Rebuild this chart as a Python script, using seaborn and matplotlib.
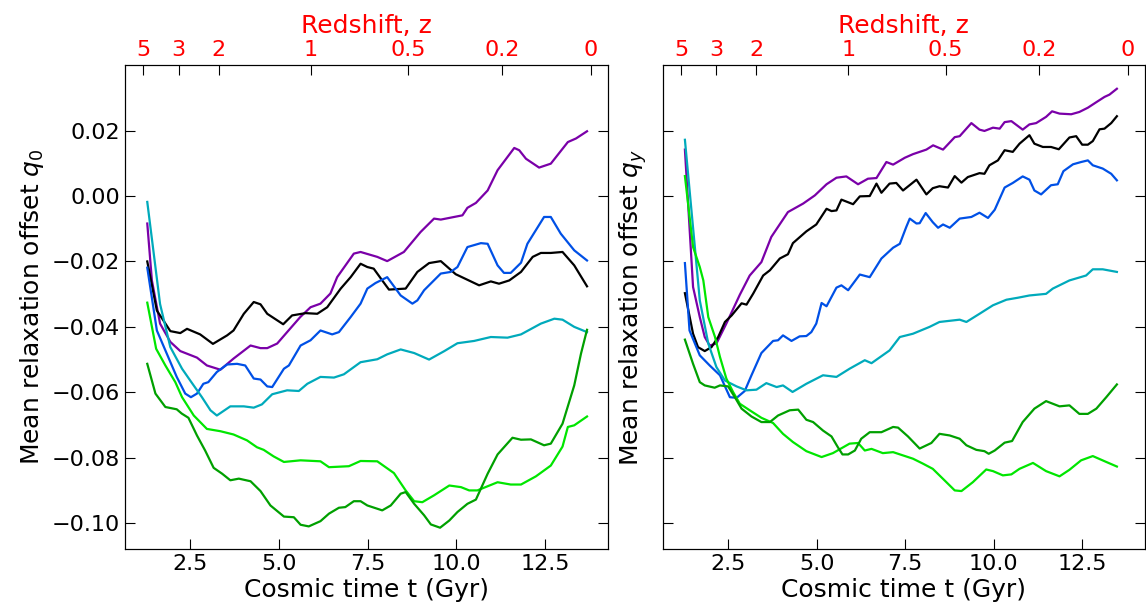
import matplotlib
matplotlib.use("Agg")
import numpy as np
import pandas as pd
import seaborn as sns
import matplotlib.pyplot as plt

# ---- left panel (q_0) ----
lp_t = [1.29,1.42,1.65,1.94,2.22,2.69,2.97,3.35,3.72,4.2,4.48,4.67,4.95,5.23,5.6,5.89,6.17,6.45,6.64,7.11,7.3,7.77,8.05,8.52,8.99,9.37,9.56,10.17,10.31,10.55,10.88,11.16,11.63,11.77,11.96,12.33,12.66,13.14,13.37,13.68]
lp_v = [-0.0084,-0.0258,-0.039,-0.0446,-0.0474,-0.0494,-0.0518,-0.0531,-0.0497,-0.0457,-0.0465,-0.0465,-0.0451,-0.0416,-0.037,-0.034,-0.0329,-0.0298,-0.0248,-0.0176,-0.0171,-0.0186,-0.0199,-0.0171,-0.011,-0.0069,-0.0072,-0.0059,-0.0036,-0.0021,0.0017,0.0079,0.0147,0.014,0.0114,0.0087,0.0099,0.0165,0.0176,0.0198]

lk_t = [1.29,1.56,1.94,2.22,2.41,2.78,3.14,3.54,3.72,4.01,4.29,4.48,4.67,5.12,5.37,5.75,6.08,6.36,6.74,7.02,7.3,7.49,7.67,7.91,8.1,8.57,8.9,9.23,9.56,9.98,10.31,10.64,10.97,11.2,11.49,11.82,12.15,12.38,12.66,12.99,13.32,13.68]
lk_v = [-0.02,-0.035,-0.0413,-0.0419,-0.0406,-0.0423,-0.0452,-0.0426,-0.0411,-0.036,-0.0324,-0.0331,-0.036,-0.0392,-0.0365,-0.0358,-0.036,-0.034,-0.0283,-0.0248,-0.0207,-0.0217,-0.0222,-0.0258,-0.0286,-0.0283,-0.0232,-0.0205,-0.0199,-0.0239,-0.0256,-0.0273,-0.0261,-0.0268,-0.0258,-0.0232,-0.0186,-0.0174,-0.0174,-0.0171,-0.0212,-0.0276]

lb_t = [1.29,1.56,1.84,2.12,2.36,2.52,2.69,2.87,3.01,3.25,3.54,3.82,4.05,4.29,4.48,4.67,4.81,5.14,5.28,5.61,5.89,6.17,6.5,6.69,7.02,7.3,7.49,7.72,8.05,8.43,8.76,8.9,9.09,9.56,9.84,10.03,10.31,10.69,10.88,11.16,11.34,11.53,11.82,12.0,12.47,12.66,12.94,13.32,13.68]
lb_v = [-0.0219,-0.0411,-0.0482,-0.0553,-0.0604,-0.0615,-0.0604,-0.0574,-0.0569,-0.0538,-0.0515,-0.0513,-0.0518,-0.0558,-0.0561,-0.0582,-0.0584,-0.0528,-0.0518,-0.0457,-0.0441,-0.0411,-0.0423,-0.0416,-0.037,-0.0329,-0.0283,-0.0266,-0.0248,-0.0304,-0.0329,-0.0319,-0.0288,-0.0237,-0.0232,-0.0217,-0.0156,-0.0144,-0.0146,-0.0212,-0.0235,-0.0235,-0.0204,-0.0146,-0.0064,-0.0064,-0.0115,-0.0166,-0.0197]

lc_t = [1.29,1.65,1.94,2.27,2.5,2.83,3.07,3.25,3.63,4.01,4.29,4.52,4.81,5.23,5.56,5.8,6.17,6.55,6.83,7.3,7.77,8.05,8.43,8.81,9.23,9.66,10.03,10.5,10.97,11.44,11.82,12.38,12.76,12.99,13.32,13.68]
lc_v = [-0.0018,-0.033,-0.0462,-0.0528,-0.0564,-0.0615,-0.0655,-0.0671,-0.0643,-0.0643,-0.0647,-0.0637,-0.0606,-0.0594,-0.0596,-0.0574,-0.0553,-0.0555,-0.0545,-0.0508,-0.0499,-0.0484,-0.0469,-0.048,-0.05,-0.0474,-0.045,-0.0443,-0.0431,-0.0433,-0.0423,-0.039,-0.0375,-0.0378,-0.04,-0.0416]

ll_t = [1.29,1.54,1.8,2.08,2.27,2.6,2.97,3.35,3.72,4.1,4.38,4.57,4.85,5.14,5.61,6.17,6.41,6.97,7.3,7.77,8.24,8.57,8.81,9.04,9.37,9.8,10.13,10.36,10.59,11.16,11.53,11.82,12.24,12.66,12.99,13.14,13.32,13.68]
ll_v = [-0.0326,-0.0467,-0.0518,-0.0569,-0.0615,-0.0671,-0.0712,-0.0719,-0.0729,-0.0747,-0.0768,-0.0776,-0.0796,-0.0813,-0.0808,-0.0811,-0.0829,-0.0826,-0.081,-0.0811,-0.0847,-0.09,-0.0933,-0.0936,-0.0915,-0.0885,-0.089,-0.09,-0.09,-0.0875,-0.0882,-0.0882,-0.0857,-0.0824,-0.0766,-0.0706,-0.0701,-0.0674]

lg_t = [1.29,1.52,1.8,2.12,2.26,2.45,2.69,2.92,3.16,3.4,3.63,3.87,4.2,4.48,4.76,5.14,5.42,5.61,5.84,6.17,6.41,6.69,6.87,7.11,7.3,7.49,7.91,8.15,8.43,8.57,8.81,9.09,9.28,9.54,9.8,10.03,10.31,10.55,10.88,11.16,11.58,11.82,12.1,12.47,12.66,12.99,13.32,13.51,13.68]
lg_v = [-0.0513,-0.0604,-0.0645,-0.0652,-0.0665,-0.0678,-0.0732,-0.0778,-0.0831,-0.0849,-0.0869,-0.0864,-0.0872,-0.0902,-0.0946,-0.098,-0.0982,-0.1005,-0.101,-0.0994,-0.0971,-0.0953,-0.0951,-0.0933,-0.0933,-0.0946,-0.0961,-0.0946,-0.091,-0.0905,-0.0941,-0.0976,-0.1004,-0.1014,-0.0992,-0.0966,-0.0941,-0.0928,-0.0849,-0.079,-0.0739,-0.0745,-0.0744,-0.0762,-0.0757,-0.0696,-0.0579,-0.0482,-0.0409]

# ---- right panel (q_y) ----
rp_t = [1.28,1.51,1.7,1.84,1.98,2.17,2.45,2.83,3.11,3.44,3.72,4.19,4.62,4.95,5.28,5.56,5.84,6.17,6.45,6.69,6.97,7.16,7.49,7.72,8.1,8.29,8.57,8.9,9.04,9.37,9.6,9.74,9.98,10.17,10.31,10.5,10.82,11.01,11.2,11.48,11.65,11.86,12.19,12.42,12.66,12.9,13.13,13.27,13.48]
rp_v = [0.0142,-0.0278,-0.037,-0.0431,-0.0457,-0.0451,-0.039,-0.0302,-0.0243,-0.0202,-0.0125,-0.0049,-0.0023,0.0002,0.0036,0.0056,0.006,0.0036,0.0053,0.0055,0.0104,0.0096,0.0117,0.0128,0.0142,0.0155,0.0142,0.018,0.0183,0.0223,0.0203,0.0199,0.0209,0.0206,0.0226,0.0229,0.0203,0.0219,0.0223,0.0242,0.0259,0.0252,0.025,0.0257,0.027,0.0287,0.0303,0.031,0.0328]

rk_t = [1.28,1.51,1.65,1.84,2.03,2.22,2.41,2.6,2.88,3.02,3.21,3.49,3.68,3.96,4.19,4.33,4.71,4.99,5.28,5.42,5.56,5.7,6.03,6.22,6.5,6.69,6.83,7.06,7.25,7.44,7.82,8.1,8.28,8.47,8.71,8.9,9.09,9.27,9.6,9.74,9.88,10.12,10.31,10.54,10.73,11.01,11.15,11.39,11.62,11.84,12.14,12.33,12.5,12.66,12.8,12.99,13.13,13.32,13.48]
rk_v = [-0.0297,-0.0421,-0.0462,-0.0474,-0.0462,-0.0431,-0.0385,-0.0365,-0.0328,-0.0332,-0.0298,-0.0243,-0.0227,-0.0191,-0.0178,-0.0144,-0.0108,-0.0087,-0.0039,-0.0046,-0.0044,-0.0011,-0.0025,-0.0001,0.0,0.0038,0.001,0.0038,0.004,0.0017,0.005,0.0005,0.0024,0.003,0.0026,0.0061,0.0041,0.0058,0.007,0.0068,0.0094,0.0109,0.014,0.0135,0.016,0.0186,0.016,0.015,0.015,0.0143,0.0179,0.0183,0.0157,0.0157,0.0168,0.0204,0.0206,0.0223,0.0244]

rb_t = [1.28,1.41,1.7,1.98,2.27,2.55,2.74,2.97,3.16,3.44,3.77,3.91,4.05,4.29,4.52,4.71,4.85,4.99,5.14,5.28,5.56,5.7,5.89,6.22,6.5,6.83,7.16,7.35,7.53,7.63,7.82,7.91,8.08,8.28,8.43,8.57,8.76,9.04,9.37,9.6,9.84,10.03,10.31,10.54,10.82,11.01,11.15,11.34,11.62,11.81,11.97,12.24,12.47,12.66,12.8,13.08,13.32,13.48]
rb_v = [-0.0205,-0.0411,-0.0487,-0.0518,-0.0548,-0.0615,-0.0617,-0.0596,-0.0548,-0.048,-0.0443,-0.0441,-0.0426,-0.0443,-0.0429,-0.0428,-0.0416,-0.039,-0.0327,-0.0337,-0.028,-0.0273,-0.0288,-0.024,-0.0248,-0.0191,-0.0158,-0.0146,-0.0095,-0.0069,-0.0084,-0.0083,-0.0052,-0.008,-0.0097,-0.0087,-0.0097,-0.0069,-0.0064,-0.0051,-0.0067,-0.0042,0.0026,0.004,0.006,0.005,0.0017,0.0005,0.0033,0.0036,0.0076,0.0097,0.0104,0.0109,0.0094,0.0084,0.0068,0.0048]

rc_t = [1.28,1.7,1.94,2.17,2.41,2.74,3.02,3.3,3.58,3.87,4.05,4.32,4.71,5.18,5.56,5.93,6.36,6.55,7.06,7.35,7.72,8.19,8.47,9.04,9.23,9.6,9.98,10.36,10.68,11.01,11.48,11.67,12.14,12.61,12.8,13.08,13.48]
rc_v = [0.0172,-0.0319,-0.0451,-0.0523,-0.0564,-0.0582,-0.0594,-0.0592,-0.0572,-0.0584,-0.0579,-0.0599,-0.0574,-0.0548,-0.0553,-0.0528,-0.0502,-0.0511,-0.0472,-0.0431,-0.0421,-0.04,-0.0385,-0.0378,-0.0385,-0.036,-0.0334,-0.0317,-0.0311,-0.0304,-0.0299,-0.0283,-0.0258,-0.0243,-0.0224,-0.0224,-0.0232]

rl_t = [1.28,1.51,1.7,1.8,1.94,2.13,2.27,2.45,2.64,2.83,3.11,3.44,3.77,4.05,4.33,4.71,5.14,5.46,5.93,6.17,6.36,6.55,6.87,7.16,7.72,8.0,8.28,8.61,8.9,9.09,9.41,9.79,9.98,10.26,10.5,10.73,11.11,11.48,11.86,12.14,12.47,12.8,13.18,13.48]
rl_v = [0.0061,-0.0156,-0.0217,-0.0258,-0.037,-0.0431,-0.0492,-0.0558,-0.0599,-0.0635,-0.0655,-0.0678,-0.0694,-0.0727,-0.0752,-0.078,-0.0798,-0.0786,-0.0757,-0.0755,-0.0778,-0.0773,-0.0786,-0.0783,-0.0803,-0.0818,-0.0834,-0.0869,-0.09,-0.0902,-0.0875,-0.0836,-0.0841,-0.0854,-0.0851,-0.0834,-0.0816,-0.0841,-0.0857,-0.0837,-0.0808,-0.0795,-0.0813,-0.0827]

rg_t = [1.28,1.51,1.7,1.84,2.12,2.27,2.5,2.69,2.88,3.16,3.44,3.68,3.91,4.24,4.48,4.71,4.9,5.18,5.42,5.6,5.73,5.89,6.08,6.26,6.5,6.83,7.16,7.3,7.58,7.91,8.24,8.47,8.76,9.04,9.23,9.51,9.74,9.86,10.03,10.31,10.52,10.82,11.15,11.48,11.86,12.14,12.42,12.66,12.9,13.18,13.48]
rg_v = [-0.0439,-0.0513,-0.0569,-0.0579,-0.0586,-0.0579,-0.0582,-0.0615,-0.065,-0.0674,-0.0691,-0.0691,-0.0671,-0.0655,-0.0653,-0.0684,-0.0691,-0.0717,-0.0735,-0.0768,-0.079,-0.079,-0.0778,-0.0742,-0.0722,-0.0722,-0.0706,-0.0708,-0.0735,-0.0772,-0.0755,-0.0727,-0.0732,-0.0742,-0.0762,-0.0776,-0.078,-0.0788,-0.0778,-0.0754,-0.0749,-0.0691,-0.065,-0.0627,-0.0643,-0.064,-0.0666,-0.0666,-0.065,-0.0615,-0.0576]

# redshift ticks on top axis (cosmic time of each z)
z_labels = ["5", "3", "2", "1", "0.5", "0.2", "0"]
z_times = [1.17, 2.17, 3.30, 5.89, 8.64, 11.29, 13.79]

colors = {"purple": "#7a00a8", "black": "#000000", "blue": "#0050e6",
          "cyan": "#00aabb", "dgreen": "#00a000", "lime": "#00e600"}

left = [(lp_t, lp_v, "purple"), (lk_t, lk_v, "black"), (lb_t, lb_v, "blue"),
        (lc_t, lc_v, "cyan"), (ll_t, ll_v, "lime"), (lg_t, lg_v, "dgreen")]
right = [(rp_t, rp_v, "purple"), (rk_t, rk_v, "black"), (rb_t, rb_v, "blue"),
         (rc_t, rc_v, "cyan"), (rl_t, rl_v, "lime"), (rg_t, rg_v, "dgreen")]

fig = plt.figure(figsize=(11.46, 6.12), dpi=100)
ax1 = fig.add_axes([0.109, 0.103, 0.4215, 0.791])
ax2 = fig.add_axes([0.5785, 0.103, 0.4205, 0.791], sharey=ax1)

for ax, series, ylab in [(ax1, left, r"Mean relaxation offset $q_0$"),
                         (ax2, right, r"Mean relaxation offset $q_y$")]:
    for t, v, c in series:
        sns.lineplot(x=t, y=v, color=colors[c], lw=1.6, ax=ax, sort=False, estimator=None)
    ax.set_xlim(0.66, 14.27)
    ax.set_ylim(-0.1079, 0.0401)
    ax.set_xticks([2.5, 5.0, 7.5, 10.0, 12.5])
    ax.set_yticks([-0.10, -0.08, -0.06, -0.04, -0.02, 0.0, 0.02])
    ax.tick_params(direction="in", length=7, labelsize=16, right=True, top=False)
    ax.set_xlabel("Cosmic time t (Gyr)", fontsize=18, labelpad=3)
    ax.set_ylabel(ylab, fontsize=18)
    if ax is ax2:
        ax.tick_params(labelleft=False)
    top = ax.twiny()
    top.set_xlim(ax.get_xlim())
    top.set_xticks(z_times)
    top.set_xticklabels(z_labels)
    top.tick_params(direction="in", length=7, labelsize=16, labelcolor="red")
    top.set_xlabel("Redshift, z", color="red", fontsize=18, labelpad=5)

# the right panel's y label sits in the gap between panels
ax2.yaxis.set_label_coords(-0.028, 0.5)

fig.savefig("out.png", dpi=100)
